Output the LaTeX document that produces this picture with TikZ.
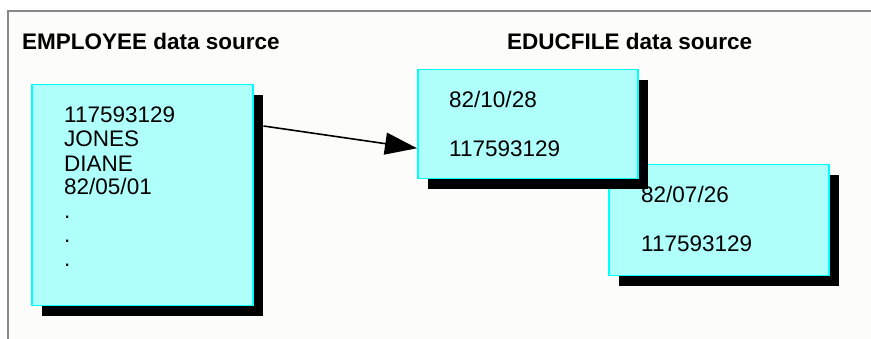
\documentclass[tikz,border=0pt]{standalone}
\usepackage{fontspec}
\setmainfont{Liberation Sans}
\usepackage{tikz}
\usetikzlibrary{arrows.meta,shadows}
\definecolor{recordcyan}{HTML}{AFFFFB}
\definecolor{edgecyan}{HTML}{00FFFF}
\definecolor{framegray}{HTML}{888888}
\definecolor{pagewhite}{HTML}{FCFDFA}

\begin{document}
\begin{tikzpicture}[x=1pt,y=-1pt,
    record/.style={draw=edgecyan, line width=1.5pt, fill=recordcyan, anchor=north west, inner sep=0pt,
        drop shadow={shadow xshift=10pt, shadow yshift=-10pt, fill=black, opacity=1}},
    srctitle/.style={anchor=base west, inner sep=0pt, font=\fontsize{22.5}{24}\selectfont\bfseries},
    recfield/.style={anchor=base west, inner sep=0pt, align=left, font=\fontsize{22.5}{24}\selectfont}]
    \useasboundingbox (0,0) rectangle (871,339);
    \fill[pagewhite] (8,11) rectangle (871,339);
    \draw[framegray, line width=2pt] (8,339) -- (8,11) -- (871,11);

    \node[srctitle] (emptitle) at (22,50) {EMPLOYEE data source};
    \node[srctitle] (eductitle) at (507,50) {EDUCFILE data source};

    % records
    \node[record, minimum width=221pt, minimum height=221pt] (emp) at (31,84) {};
    \node[record, minimum width=220pt, minimum height=111pt] (educb) at (608,164) {};
    \node[record, minimum width=220pt, minimum height=109pt] (educa) at (417,69) {};

    % base anchor sits on the last line
    \node[recfield] (emptext) at (64,267) {117593129\\JONES\\DIANE\\82/05/01\\.\\.\\.};
    \node[recfield] (educatext) at (449,157) {82/10/28\\[25pt]117593129};
    \node[recfield] (educbtext) at (641,252) {82/07/26\\[25pt]117593129};

    \coordinate (empout) at ([xshift=10pt, yshift=-42pt]emp.north east);
    \draw[-{Triangle[length=32pt,width=22pt]}, line width=1.6pt] (empout) -- ([yshift=-24pt]educa.west);
\end{tikzpicture}
\end{document}
